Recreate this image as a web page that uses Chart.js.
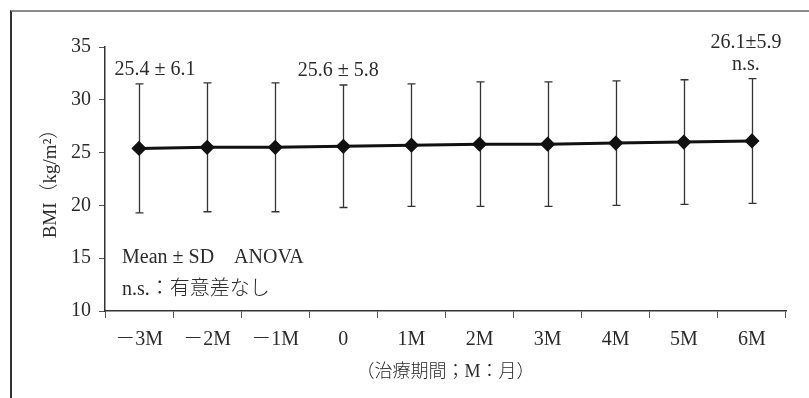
<!DOCTYPE html>
<html>
<head>
<meta charset="utf-8">
<script src="https://cdn.jsdelivr.net/npm/chart.js@4.4.0/dist/chart.umd.min.js"></script>
<style>
  html, body { margin: 0; padding: 0; background: #fff; }
  #wrap { position: relative; width: 809px; height: 398px; overflow: hidden; }
  #frame { position: absolute; left: 10px; top: 10px; width: 810px; height: 400px;
           border-top: 2px solid #8c8c8c; border-left: 2px solid #333; }
  canvas { position: absolute; left: 0; top: 0; }
</style>
</head>
<body>
<div id="wrap">
  <div id="frame"></div>
  <canvas id="bmi" width="809" height="398"></canvas>
</div>
<script>
// treatment period (M = month)
var months = ['－3M', '－2M', '－1M', '0', '1M', '2M', '3M', '4M', '5M', '6M'];
var bmiMean = [25.4, 25.5, 25.5, 25.6, 25.7, 25.8, 25.8, 25.9, 26.0, 26.1];
var bmiSD = [6.1, 6.1, 6.1, 5.8, 5.8, 5.9, 5.9, 5.9, 5.9, 5.9];
var yTicks = [10, 15, 20, 25, 30, 35];

var valueNotes = [
    { index: 0, lines: ['25.4 ± 6.1'] },
    { index: 3, lines: ['25.6 ± 5.8'] },
    { index: 9, lines: ['26.1±5.9', 'n.s.'] }
];
var footNotes = ['Mean ± SD　ANOVA', 'n.s.：有意差なし'];

var serif = '"Liberation Serif", "Noto Sans CJK JP", serif';
var ink = '#2b2b2b';

var errorBars = {
    id: 'errorBars',
    beforeDatasetsDraw: function (chart) {
        var ctx = chart.ctx, x = chart.scales.x, y = chart.scales.y;
        ctx.save();
        ctx.strokeStyle = '#333';
        ctx.lineWidth = 1.3;
        bmiMean.forEach(function (m, i) {
            var px = Math.round(x.getPixelForValue(i)) + 0.5;
            var top = y.getPixelForValue(m + bmiSD[i]);
            var bot = y.getPixelForValue(m - bmiSD[i]);
            ctx.beginPath();
            ctx.moveTo(px, top); ctx.lineTo(px, bot);
            ctx.moveTo(px - 4, top); ctx.lineTo(px + 4, top);
            ctx.moveTo(px - 4, bot); ctx.lineTo(px + 4, bot);
            ctx.stroke();
        });
        ctx.restore();
    }
};

var notes = {
    id: 'notes',
    afterDraw: function (chart) {
        var ctx = chart.ctx, x = chart.scales.x, y = chart.scales.y, area = chart.chartArea;
        var nudge = { 0: 16, 3: -5, 9: -6 };
        ctx.save();
        ctx.font = '300 20px ' + serif;
        ctx.fillStyle = ink;
        ctx.textAlign = 'center';
        ctx.textBaseline = 'middle';
        valueNotes.forEach(function (n) {
            var px = x.getPixelForValue(n.index) + (nudge[n.index] || 0);
            var top = y.getPixelForValue(bmiMean[n.index] + bmiSD[n.index]);
            var last = n.lines.length - 1;
            n.lines.forEach(function (t, k) {
                ctx.fillText(t, px, top - 14 - (last - k) * 22);
            });
        });
        ctx.textAlign = 'left';
        footNotes.forEach(function (t, k) {
            ctx.fillText(t, area.left + 17, area.bottom - 53 + k * 32);
        });
        ctx.restore();
    }
};

new Chart(document.getElementById('bmi'), {
    type: 'line',
    data: {
        labels: months,
        datasets: [{
            label: 'BMI',
            data: bmiMean,
            borderColor: '#111',
            borderWidth: 3,
            pointStyle: 'rectRot',
            pointRadius: 5.5,
            pointBackgroundColor: '#111',
            pointBorderColor: '#111',
            tension: 0
        }]
    },
    options: {
        responsive: false,
        animation: false,
        layout: { padding: { left: 10, right: 23, top: 47, bottom: 0 } },
        plugins: {
            legend: { display: false },
            tooltip: { enabled: false }
        },
        scales: {
            x: {
                offset: true,
                afterFit: function (s) { s.height = 87; },
                grid: { offset: true, drawOnChartArea: false, drawTicks: true, tickLength: 7, color: '#555' },
                border: { display: true, color: '#333', width: 1.5 },
                ticks: { color: ink, padding: 10, font: { family: serif, size: 20, weight: 300 }, maxRotation: 0 },
                title: {
                    display: true,
                    text: '（治療期間；M：月）',
                    color: ink,
                    font: { family: serif, size: 18, weight: 300 },
                    padding: { top: 0, bottom: 15 }
                }
            },
            y: {
                min: yTicks[0],
                max: yTicks[yTicks.length - 1],
                afterFit: function (s) { s.width = 95; },
                afterBuildTicks: function (s) { s.ticks = yTicks.map(function (v) { return { value: v }; }); },
                grid: { drawOnChartArea: false, drawTicks: true, tickLength: 6, color: '#555' },
                border: { display: true, color: '#333', width: 1.5 },
                ticks: { color: ink, padding: 8, font: { family: serif, size: 20, weight: 300 } },
                title: {
                    display: true,
                    text: 'BMI（kg/m²）',
                    color: ink,
                    font: { family: serif, size: 19, weight: 300 },
                    padding: { top: 30, bottom: 0 }
                }
            }
        }
    },
    plugins: [errorBars, notes]
});
</script>
</body>
</html>
